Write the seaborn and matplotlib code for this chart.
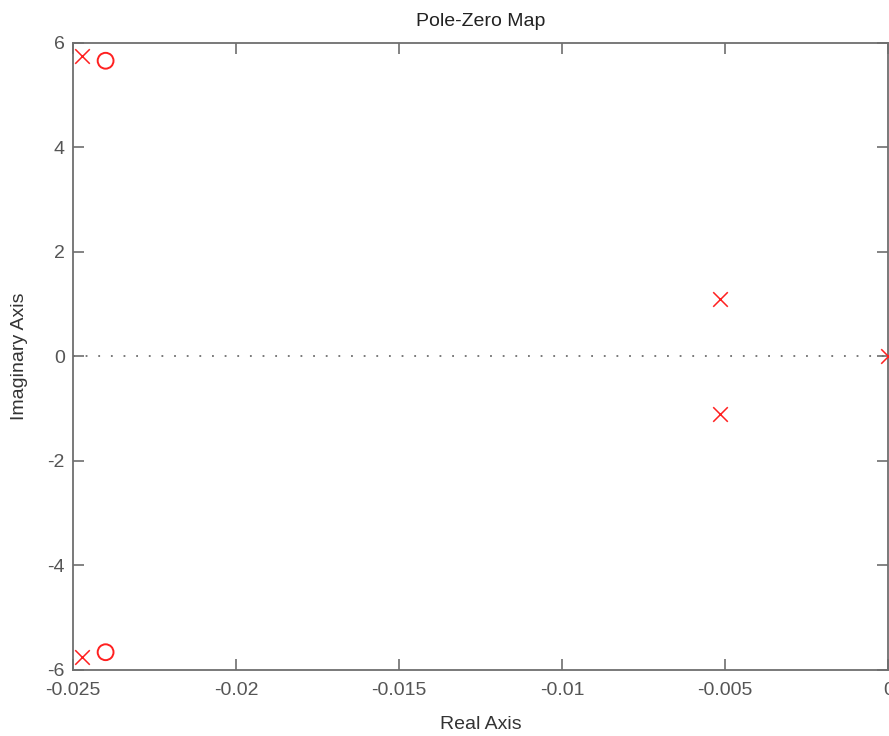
import matplotlib
matplotlib.use('Agg')
import matplotlib.pyplot as plt
import seaborn as sns
import numpy as np

# Pole-zero data
pole_re = [-0.02472, -0.02472, -0.00515, -0.00515, 0.0]
pole_im = [5.75, -5.75, 1.1, -1.1, 0.0]
zero_re = [-0.0240, -0.0240]
zero_im = [5.66, -5.66]

x_ticks = [-0.025, -0.02, -0.015, -0.01, -0.005, 0]
x_labels = ['-0.025', '-0.02', '-0.015', '-0.01', '-0.005', '0']
y_ticks = [-6, -4, -2, 0, 2, 4, 6]

sns.set_style('white')
plt.rcParams['font.family'] = ['Liberation Sans', 'DejaVu Sans']
plt.rcParams['axes.unicode_minus'] = False

gray = '#6e6e6e'
red = '#ff2020'

fig = plt.figure(figsize=(8.89, 7.36), dpi=100)
ax = fig.add_axes([0.0821, 0.0897, 0.9170, 0.8519])

# dotted zero line
ax.axhline(0, color=gray, linestyle=(0, (1, 6)), linewidth=1.3, zorder=1)

sns.scatterplot(x=pole_re, y=pole_im, marker='x', color=red, s=110,
                linewidth=1.1, ax=ax, zorder=3, clip_on=False)
sns.scatterplot(x=zero_re, y=zero_im, marker='o', facecolor='none',
                edgecolor=red, s=130, linewidth=1.4, ax=ax, zorder=3)

ax.set_xlim(-0.025, 0)
ax.set_ylim(-6, 6)
ax.set_xticks(x_ticks)
ax.set_xticklabels(x_labels)
ax.set_yticks(y_ticks)

for sp in ax.spines.values():
    sp.set_color(gray)
    sp.set_linewidth(1.3)

ax.tick_params(direction='in', length=8, width=1.2, color=gray,
               labelcolor='#555555', labelsize=14, top=True, right=True,
               bottom=True, left=True)
ax.tick_params(axis='x', pad=9)
ax.tick_params(axis='y', pad=6)

ax.set_title('Pole-Zero Map', fontsize=14, color='#222222', pad=12)
ax.set_xlabel('Real Axis', fontsize=14, color='#333333', labelpad=12)
ax.set_ylabel('Imaginary Axis', fontsize=14, color='#333333', labelpad=14)

fig.savefig('out.png', dpi=100)
